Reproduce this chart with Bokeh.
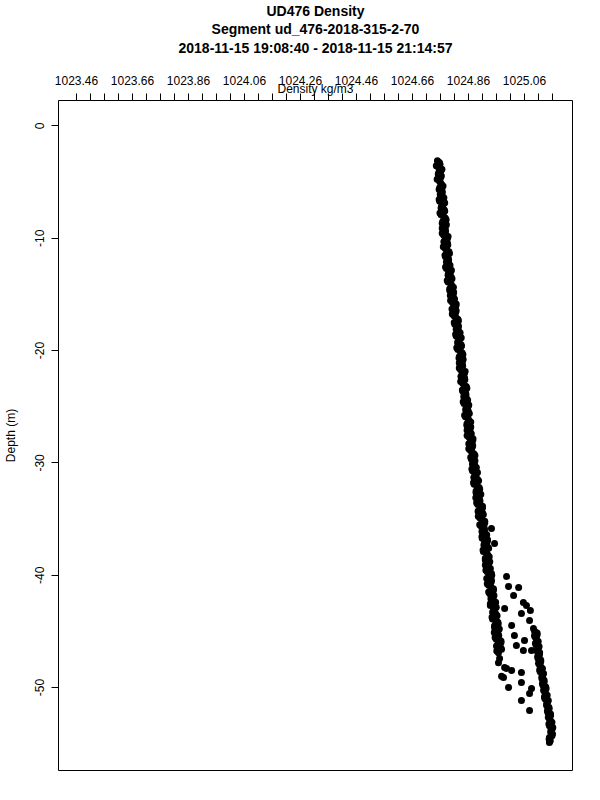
from bokeh.plotting import figure
from bokeh.models import LinearAxis, FixedTicker, Title, Range1d, PrintfTickFormatter
from bokeh.embed import file_html
from bokeh.resources import INLINE

FONT = "Liberation Sans"

title_lines = ["UD476 Density", "Segment ud_476-2018-315-2-70",
               "2018-11-15 19:08:40 - 2018-11-15 21:14:57"]
x_label = "Density kg/m3"
y_label = "Depth (m)"

x_ticks = [1023.46, 1023.66, 1023.86, 1024.06, 1024.26, 1024.46, 1024.66, 1024.86, 1025.06]
x_minor = [1023.46, 1023.51, 1023.56, 1023.61, 1023.66, 1023.71, 1023.76, 1023.81,
           1023.86, 1023.91, 1023.96, 1024.01, 1024.06, 1024.11, 1024.16, 1024.21,
           1024.26, 1024.31, 1024.36, 1024.41, 1024.46, 1024.51, 1024.56, 1024.61,
           1024.66, 1024.71, 1024.76, 1024.81, 1024.86, 1024.91, 1024.96, 1025.01,
           1025.06, 1025.11, 1025.16]
y_ticks = [0, -10, -20, -30, -40, -50]

# main band, first pass of samples (surface to ~47 m)
depth_main = [-3.1, -3.4, -3.7, -4.0, -4.3, -4.6, -4.9, -5.2, -5.5, -5.8,
              -6.1, -6.4, -6.7, -7.0, -7.3, -7.6, -7.9, -8.2, -8.5, -8.8,
              -9.1, -9.4, -9.7, -10.0, -10.3, -10.6, -10.9, -11.2, -11.5, -11.8,
              -12.1, -12.4, -12.7, -13.0, -13.3, -13.6, -13.9, -14.2, -14.5, -14.8,
              -15.1, -15.4, -15.7, -16.0, -16.3, -16.6, -16.9, -17.2, -17.5, -17.8,
              -18.1, -18.4, -18.7, -19.0, -19.3, -19.6, -19.9, -20.2, -20.5, -20.8,
              -21.1, -21.4, -21.7, -22.0, -22.3, -22.6, -22.9, -23.2, -23.5, -23.8,
              -24.1, -24.4, -24.7, -25.0, -25.3, -25.6, -25.9, -26.2, -26.5, -26.8,
              -27.1, -27.4, -27.7, -28.0, -28.3, -28.6, -28.9, -29.2, -29.5, -29.8,
              -30.1, -30.4, -30.7, -31.0, -31.3, -31.6, -31.9, -32.2, -32.5, -32.8,
              -33.1, -33.4, -33.7, -34.0, -34.3, -34.6, -34.9, -35.2, -35.5, -35.8,
              -36.1, -36.4, -36.7, -37.0, -37.3, -37.6, -37.9, -38.2, -38.5, -38.8,
              -39.1, -39.4, -39.7, -40.0, -40.3, -40.6, -40.9, -41.2, -41.5, -41.8,
              -42.1, -42.4, -42.7, -43.0, -43.3, -43.6, -43.9, -44.2, -44.5, -44.8,
              -45.1, -45.4, -45.7, -46.0, -46.3, -46.6, -46.9]
dens_main = [1024.749, 1024.758, 1024.753, 1024.761, 1024.752, 1024.760, 1024.756, 1024.764, 1024.757, 1024.766,
             1024.759, 1024.772, 1024.757, 1024.769, 1024.762, 1024.775, 1024.762, 1024.777, 1024.768, 1024.781,
             1024.766, 1024.778, 1024.771, 1024.785, 1024.772, 1024.786, 1024.777, 1024.790, 1024.776, 1024.788,
             1024.781, 1024.794, 1024.781, 1024.796, 1024.787, 1024.801, 1024.787, 1024.800, 1024.793, 1024.807,
             1024.795, 1024.810, 1024.802, 1024.815, 1024.801, 1024.814, 1024.808, 1024.822, 1024.809, 1024.824,
             1024.816, 1024.830, 1024.816, 1024.828, 1024.821, 1024.835, 1024.822, 1024.837, 1024.828, 1024.841,
             1024.827, 1024.839, 1024.832, 1024.846, 1024.833, 1024.847, 1024.839, 1024.852, 1024.838, 1024.850,
             1024.843, 1024.857, 1024.844, 1024.858, 1024.850, 1024.863, 1024.849, 1024.861, 1024.855, 1024.868,
             1024.855, 1024.870, 1024.861, 1024.875, 1024.861, 1024.873, 1024.867, 1024.880, 1024.868, 1024.883,
             1024.874, 1024.888, 1024.874, 1024.887, 1024.879, 1024.896, 1024.880, 1024.898, 1024.887, 1024.904,
             1024.886, 1024.901, 1024.893, 1024.910, 1024.894, 1024.913, 1024.901, 1024.918, 1024.900, 1024.916,
             1024.908, 1024.925, 1024.909, 1024.927, 1024.915, 1024.932, 1024.913, 1024.929, 1024.920, 1024.936,
             1024.920, 1024.938, 1024.927, 1024.943, 1024.925, 1024.941, 1024.932, 1024.949, 1024.932, 1024.951,
             1024.940, 1024.957, 1024.938, 1024.954, 1024.946, 1024.962, 1024.946, 1024.965, 1024.953, 1024.970,
             1024.952, 1024.968, 1024.959, 1024.976, 1024.960, 1024.978, 1024.967]

# main band, second pass of samples (between the first-pass depths)
depth_main2 = [-3.25, -3.55, -3.85, -4.15, -4.45, -4.75, -5.05, -5.35, -5.65, -5.95,
               -6.25, -6.55, -6.85, -7.15, -7.45, -7.75, -8.05, -8.35, -8.65, -8.95,
               -9.25, -9.55, -9.85, -10.15, -10.45, -10.75, -11.05, -11.35, -11.65, -11.95,
               -12.25, -12.55, -12.85, -13.15, -13.45, -13.75, -14.05, -14.35, -14.65, -14.95,
               -15.25, -15.55, -15.85, -16.15, -16.45, -16.75, -17.05, -17.35, -17.65, -17.95,
               -18.25, -18.55, -18.85, -19.15, -19.45, -19.75, -20.05, -20.35, -20.65, -20.95,
               -21.25, -21.55, -21.85, -22.15, -22.45, -22.75, -23.05, -23.35, -23.65, -23.95,
               -24.25, -24.55, -24.85, -25.15, -25.45, -25.75, -26.05, -26.35, -26.65, -26.95,
               -27.25, -27.55, -27.85, -28.15, -28.45, -28.75, -29.05, -29.35, -29.65, -29.95,
               -30.25, -30.55, -30.85, -31.15, -31.45, -31.75, -32.05, -32.35, -32.65, -32.95,
               -33.25, -33.55, -33.85, -34.15, -34.45, -34.75, -35.05, -35.35, -35.65, -35.95,
               -36.25, -36.55, -36.85, -37.15, -37.45, -37.75, -38.05, -38.35, -38.65, -38.95,
               -39.25, -39.55, -39.85, -40.15, -40.45, -40.75, -41.05, -41.35, -41.65, -41.95,
               -42.25, -42.55, -42.85, -43.15, -43.45, -43.75, -44.05, -44.35, -44.65, -44.95,
               -45.25, -45.55, -45.85, -46.15, -46.45, -46.75]
dens_main2 = [1024.756, 1024.745, 1024.765, 1024.754, 1024.763, 1024.748, 1024.760, 1024.769, 1024.755, 1024.766,
              1024.766, 1024.755, 1024.775, 1024.764, 1024.773, 1024.758, 1024.771, 1024.780, 1024.766, 1024.777,
              1024.777, 1024.766, 1024.787, 1024.776, 1024.785, 1024.770, 1024.782, 1024.792, 1024.778, 1024.789,
              1024.789, 1024.778, 1024.799, 1024.788, 1024.798, 1024.784, 1024.797, 1024.806, 1024.793, 1024.805,
              1024.806, 1024.796, 1024.816, 1024.806, 1024.816, 1024.802, 1024.815, 1024.824, 1024.811, 1024.823,
              1024.824, 1024.814, 1024.834, 1024.823, 1024.833, 1024.818, 1024.831, 1024.840, 1024.826, 1024.838,
              1024.838, 1024.827, 1024.848, 1024.837, 1024.846, 1024.832, 1024.844, 1024.854, 1024.840, 1024.851,
              1024.852, 1024.841, 1024.861, 1024.851, 1024.860, 1024.846, 1024.858, 1024.868, 1024.854, 1024.865,
              1024.866, 1024.855, 1024.876, 1024.866, 1024.875, 1024.861, 1024.873, 1024.883, 1024.870, 1024.881,
              1024.882, 1024.872, 1024.892, 1024.882, 1024.892, 1024.878, 1024.890, 1024.900, 1024.887, 1024.899,
              1024.899, 1024.889, 1024.910, 1024.900, 1024.910, 1024.895, 1024.908, 1024.918, 1024.905, 1024.917,
              1024.918, 1024.908, 1024.928, 1024.917, 1024.927, 1024.912, 1024.925, 1024.934, 1024.920, 1024.932,
              1024.932, 1024.922, 1024.942, 1024.932, 1024.942, 1024.927, 1024.940, 1024.949, 1024.936, 1024.948,
              1024.949, 1024.938, 1024.959, 1024.949, 1024.958, 1024.944, 1024.957, 1024.966, 1024.953, 1024.965,
              1024.966, 1024.955, 1024.976, 1024.966, 1024.975, 1024.961]

# scattered points between the two lower branches
depth_scatter = [-35.84, -37.18, -40.12, -41.0, -41.09, -41.8, -42.43, -42.7, -42.97, -43.41,
                 -43.14, -44.03, -44.48, -44.75, -45.37, -45.37, -45.81, -46.26, -46.26, -46.71,
                 -46.88, -46.71, -47.42, -48.22, -49.11, -48.49, -50.0, -48.66, -49.56, -50.08,
                 -50.53, -51.16, -52.05, -47.8, -48.3, -49.0]
dens_scatter = [1024.942, 1024.953, 1024.996, 1025.003, 1025.039, 1025.021, 1025.056, 1025.067, 1024.989, 1025.049,
                1025.081, 1025.078, 1025.014, 1025.092, 1025.024, 1025.096, 1025.060, 1025.031, 1025.103, 1025.056,
                1025.114, 1025.085, 1024.971, 1024.989, 1024.985, 1025.014, 1025.003, 1025.049, 1025.049, 1025.085,
                1025.078, 1025.049, 1025.078, 1024.967, 1024.996, 1024.978]

# dense right branch near the bottom
depth_deep = [-45.0, -45.3, -45.6, -45.9, -46.2, -46.5, -46.8, -47.1, -47.4, -47.7,
              -48.0, -48.3, -48.6, -48.9, -49.2, -49.5, -49.8, -50.1, -50.4, -50.7,
              -51.0, -51.3, -51.6, -51.9, -52.2, -52.5, -52.8, -53.1, -53.4, -53.7,
              -54.0, -54.3, -54.6, -54.9]
dens_deep = [1025.096, 1025.105, 1025.101, 1025.109, 1025.101, 1025.109, 1025.106, 1025.113, 1025.108, 1025.118,
             1025.114, 1025.124, 1025.116, 1025.125, 1025.122, 1025.130, 1025.126, 1025.137, 1025.132, 1025.141,
             1025.133, 1025.142, 1025.139, 1025.148, 1025.143, 1025.153, 1025.149, 1025.158, 1025.149, 1025.158,
             1025.154, 1025.158, 1025.148, 1025.149]
depth_deep2 = [-45.15, -45.45, -45.75, -46.05, -46.35, -46.65, -46.95, -47.25, -47.55, -47.85,
               -48.15, -48.45, -48.75, -49.05, -49.35, -49.65, -49.95, -50.25, -50.55, -50.85,
               -51.15, -51.45, -51.75, -52.05, -52.35, -52.65, -52.95, -53.25, -53.55, -53.85,
               -54.15, -54.45, -54.75]
dens_deep2 = [1025.105, 1025.097, 1025.104, 1025.099, 1025.112, 1025.106, 1025.113, 1025.107, 1025.118, 1025.110,
              1025.118, 1025.114, 1025.128, 1025.122, 1025.130, 1025.124, 1025.136, 1025.128, 1025.136, 1025.131,
              1025.145, 1025.139, 1025.147, 1025.142, 1025.153, 1025.145, 1025.153, 1025.147, 1025.161, 1025.154,
              1025.160, 1025.149, 1025.152]

p = figure(frame_width=514, frame_height=670,
           x_range=Range1d(1023.3957, 1025.2314), y_range=Range1d(-57.39, 2.27),
           x_axis_location=None, y_axis_location=None,
           output_backend="svg", toolbar_location=None,
           min_border_left=57, min_border_right=27, min_border_top=100, min_border_bottom=28,
           background_fill_color="white", border_fill_color="white")
p.outline_line_color = "black"
p.outline_line_width = 1
p.outline_line_alpha = 1.0
for g in p.grid:
    g.visible = False

# ticks + axis title (closest to the frame)
tick_axis = LinearAxis(ticker=FixedTicker(ticks=[], minor_ticks=x_minor),
                       major_tick_out=7, major_tick_in=0, minor_tick_out=7, minor_tick_in=0,
                       major_tick_line_color="black", minor_tick_line_color="black",
                       axis_line_color=None, major_label_standoff=0,
                       axis_label=x_label, axis_label_standoff=-2,
                       axis_label_text_font=FONT, axis_label_text_font_size="12px",
                       axis_label_text_font_style="normal", axis_label_text_color="black")
p.add_layout(tick_axis, "above")

# tick labels; its axis label carries the third title line
label_axis = LinearAxis(ticker=FixedTicker(ticks=x_ticks, minor_ticks=[]),
                        major_tick_out=0, major_tick_in=0, minor_tick_out=0, minor_tick_in=0,
                        major_tick_line_color=None, minor_tick_line_color=None,
                        axis_line_color=None, formatter=PrintfTickFormatter(format="%.2f"),
                        major_label_standoff=-6,
                        major_label_text_font=FONT, major_label_text_font_size="12px",
                        major_label_text_color="black",
                        axis_label=title_lines[2], axis_label_standoff=17,
                        axis_label_text_font=FONT, axis_label_text_font_size="14px",
                        axis_label_text_font_style="bold", axis_label_text_color="black")
p.add_layout(label_axis, "above")

for txt in [title_lines[1], title_lines[0]]:
    p.add_layout(Title(text=txt, align="center", text_font=FONT, text_font_size="14px",
                       text_font_style="bold", text_color="black", standoff=0), "above")

y_axis = LinearAxis(ticker=FixedTicker(ticks=y_ticks, minor_ticks=[]),
                    major_tick_out=7, major_tick_in=0, minor_tick_out=0, minor_tick_in=0,
                    major_tick_line_color="black", axis_line_color=None,
                    formatter=PrintfTickFormatter(format="%d"),
                    major_label_orientation="vertical", major_label_standoff=7,
                    major_label_text_font=FONT, major_label_text_font_size="12px",
                    major_label_text_color="black",
                    axis_label=y_label, axis_label_standoff=15,
                    axis_label_text_font=FONT, axis_label_text_font_size="12px",
                    axis_label_text_font_style="normal", axis_label_text_color="black")
p.add_layout(y_axis, "left")

for xs, ys in [(dens_main, depth_main), (dens_main2, depth_main2), (dens_scatter, depth_scatter),
               (dens_deep, depth_deep), (dens_deep2, depth_deep2)]:
    p.scatter(x=xs, y=ys, size=7, marker="circle", fill_color="black", line_color=None)

open("out.html", "w").write(file_html(p, INLINE))
